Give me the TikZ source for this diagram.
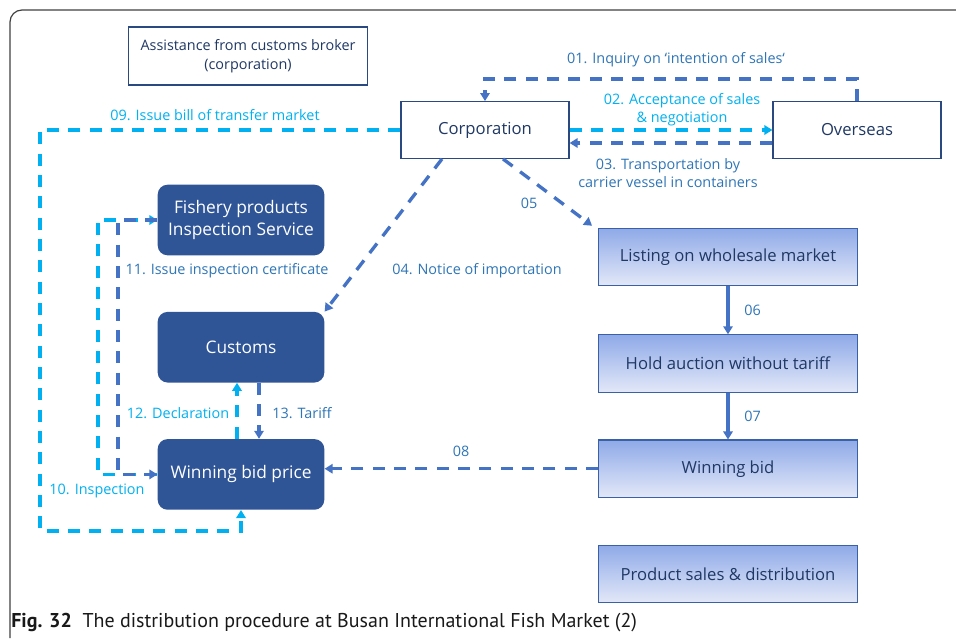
\documentclass[tikz,border=0pt]{standalone}
\usepackage{fontspec}
\setmainfont{Open Sans}
\newfontfamily\capfont{PT Sans}
\usetikzlibrary{positioning,arrows.meta,calc}
\definecolor{navy}{HTML}{1F3864}
\definecolor{boxblue}{HTML}{2F5597}
\definecolor{lineblue}{HTML}{4472C4}
\definecolor{skyline}{HTML}{00B0F0}
\definecolor{lblblue}{HTML}{2E75B6}
\definecolor{lighttop}{HTML}{8FAAE8}
\definecolor{lightbot}{HTML}{E3E8F8}
\definecolor{framegray}{HTML}{404040}
\tikzset{
	every node/.style = {font=\fontsize{12.5}{16}\selectfont, inner sep = 0},
	>={Triangle[length=6pt,width=7pt]},
	every text node part/.style={align=center},
	notebox/.style={draw=navy!70!lineblue, line width=0.9pt, text=navy, minimum width=179pt, minimum height=43.5pt, font=\fontsize{10.8}{14}\selectfont},
	plainbox/.style={draw=navy!70!lineblue, line width=0.9pt, text=navy, minimum width=126pt, minimum height=42.5pt},
	darkbox/.style={fill=boxblue, text=white, rounded corners=7.5pt, minimum width=125pt, minimum height=53pt, font=\fontsize{13}{17}\selectfont},
	lightbox/.style={draw=lineblue!85!black, line width=0.9pt, top color=lighttop, bottom color=lightbot, text=navy, minimum width=194pt, minimum height=43pt},
	dashline/.style={line width=2.5pt, dash pattern=on 9pt off 7pt, ->},
	blueline/.style={dashline, draw=lineblue},
	skydash/.style={dashline, draw=skyline},
	solidline/.style={line width=2.5pt, draw=lineblue, ->},
	lbl/.style={font=\fontsize{10.8}{13.5}\selectfont, text=lblblue},
	skylbl/.style={font=\fontsize{10.8}{13.5}\selectfont, text=skyline}
}
\begin{document}
\begin{tikzpicture}[x=0.75pt, y=-0.75pt]
	\useasboundingbox (0,0) rectangle (956,639);
	\draw[framegray, line width=0.9pt, rounded corners=9pt] (10,638) -- (10,10) -- (956,10);

	% boxes
	\node(broker)[notebox] at (248,56) {Assistance from customs broker\\(corporation)};
	\node(corp)[plainbox] at (485,130) {Corporation};
	\node(over)[plainbox] at (857,130) {Overseas};
	\node(fish)[darkbox] at (241,220) {Fishery products\\Inspection Service};
	\node(cust)[darkbox, below=42pt of fish] {Customs};
	\node(wbp)[darkbox, below=42pt of cust] {Winning bid price};
	\node(list)[lightbox] at (728,257) {Listing on wholesale market};
	\node(hold)[lightbox, below=36pt of list] {Hold auction without tariff};
	\node(wb)[lightbox, below=35pt of hold] {Winning bid};
	\node(prod)[lightbox, below=35pt of wb] {Product sales \& distribution};

	% connectors
	\draw[blueline] (over.north) -- ++(0,-22) -| (corp.north);
	\draw[skydash] (corp.east) -- (over.west);
	\draw[blueline] ($(over.west)+(0,13)$) -- ($(corp.east)+(0,13)$);
	\draw[blueline] ($(corp.south)+(-43,0)$) -- (cust.north east);
	\draw[blueline] ($(corp.south)+(18,0)$) -- ($(list.north west)+(-6,-2)$);
	\path (list) edge[solidline] node[lbl, right=11pt]{06} (hold);
	\path (hold) edge[solidline] node[lbl, right=11pt]{07} (wb);
	\draw[blueline] (wb.west) -- (wb.west -| wbp.east);
	\coordinate (rail09) at (40,531);
	\draw[skydash] (corp.west) -| (rail09) -| (wbp.south);
	\coordinate (rail10) at (98,0);
	\draw[skydash] (wbp.west) -- (wbp.west -| rail10) |- (fish.west);
	\coordinate (rail11) at (118,0);
	\draw[blueline] (fish.west) -- (fish.west -| rail11) |- (wbp.west);
	\draw[skydash] ($(wbp.north)+(-4,0)$) -- ($(cust.south)+(-4,0)$);
	\draw[blueline] ($(cust.south)+(18,0)$) -- ($(wbp.north)+(18,0)$);

	% labels
	\node(l01)[lbl] at (676,60) {01. Inquiry on ‘intention of sales‘};
	\node(l02)[skylbl] at (682,110) {02. Acceptance of sales\\\& negotiation};
	\node(l03)[lbl] at (668,173) {03. Transportation by\\carrier vessel in containers};
	\node(l04)[lbl] at (477,271) {04. Notice of importation};
	\node(l05)[lbl] at (529,203) {05};
	\node(l08)[lbl] at (461,451) {08};
	\node(l09)[skylbl] at (215,115) {09. Issue bill of transfer market};
	\node(l10)[skylbl] at (97,491) {10. Inspection};
	\node(l11)[lbl] at (227,271) {11. Issue inspection certificate};
	\node(l12)[skylbl] at (178,413) {12. Declaration};
	\node(l13)[lbl] at (302,413) {13. Tariff};

	\node(caption)[anchor=base west, font=\capfont\fontsize{15}{18}\selectfont, text=black!90] at (11,627) {\textbf{Fig. 32}\ \ The distribution procedure at Busan International Fish Market (2)};
\end{tikzpicture}
\end{document}
